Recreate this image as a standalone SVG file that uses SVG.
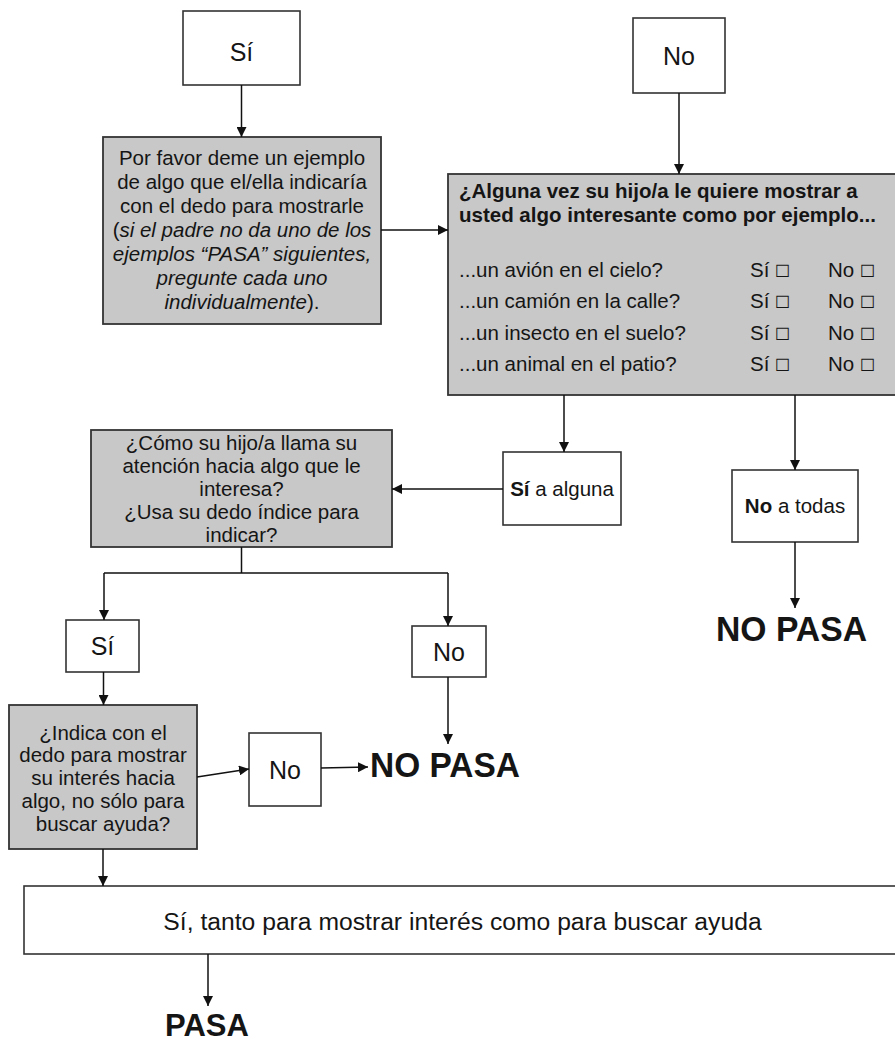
<svg xmlns="http://www.w3.org/2000/svg" width="895" height="1045" viewBox="0 0 895 1045">
<defs>
<marker id="ah" viewBox="0 0 10 10" refX="10" refY="5" markerWidth="10" markerHeight="10" markerUnits="userSpaceOnUse" orient="auto"><path d="M0,0 L10,5 L0,10 z" fill="#111"/></marker>
<style>
text{font-family:"Liberation Sans",Arial,"DejaVu Sans",sans-serif;fill:#151515;}
.box{fill:#fff;stroke:#333;stroke-width:1.6;}
.gbox{fill:#c8c8c8;stroke:#333;stroke-width:1.8;}
.t{font-size:20.5px;}
.c{text-anchor:middle;}
.big{font-size:25px;text-anchor:middle;}
.res{font-size:35px;font-weight:bold;}
.i{font-style:italic;}
.b{font-weight:bold;}
.chk{font-size:17px;}
.cn path{fill:none;stroke:#111;stroke-width:1.5;}
</style>
</defs>
<rect width="895" height="1045" fill="#fff"/>

<g id="si-top"><rect class="box" x="183" y="11" width="117" height="74"/><text class="big" x="241.5" y="61">Sí</text></g>

<g id="no-top"><rect class="box" x="633" y="18" width="92" height="75"/><text class="big" x="679" y="65">No</text></g>

<g id="ejemplo"><rect class="gbox" x="103" y="137" width="278" height="187"/>
<text class="t c" x="242" y="165">Por favor deme un ejemplo</text>
<text class="t c" x="242" y="189">de algo que el/ella indicaría</text>
<text class="t c" x="242" y="213">con el dedo para mostrarle</text>
<text class="t c" x="242" y="237">(<tspan class="i">si el padre no da uno de los</tspan></text>
<text class="t c i" x="242" y="261">ejemplos “PASA” siguientes,</text>
<text class="t c i" x="242" y="285">pregunte cada uno</text>
<text class="t c" x="242" y="309"><tspan class="i">individualmente</tspan>).</text>
</g>

<g id="pregunta"><rect class="gbox" x="448" y="174" width="460" height="221"/>
<text class="t b" x="459" y="198">¿Alguna vez su hijo/a le quiere mostrar a</text>
<text class="t b" x="459" y="222">usted algo interesante como por ejemplo...</text>
<text class="t" x="459" y="277">...un avión en el cielo?</text>
<text class="t" x="459" y="308">...un camión en la calle?</text>
<text class="t" x="459" y="340">...un insecto en el suelo?</text>
<text class="t" x="459" y="371">...un animal en el patio?</text>
<text class="t" x="750" y="277">Sí <tspan class="chk">☐</tspan></text><text class="t" x="828" y="277">No <tspan class="chk">☐</tspan></text>
<text class="t" x="750" y="308">Sí <tspan class="chk">☐</tspan></text><text class="t" x="828" y="308">No <tspan class="chk">☐</tspan></text>
<text class="t" x="750" y="340">Sí <tspan class="chk">☐</tspan></text><text class="t" x="828" y="340">No <tspan class="chk">☐</tspan></text>
<text class="t" x="750" y="371">Sí <tspan class="chk">☐</tspan></text><text class="t" x="828" y="371">No <tspan class="chk">☐</tspan></text>
</g>

<g id="si-alguna"><rect class="box" x="503" y="452" width="118" height="73"/><text class="t c" x="562" y="496"><tspan class="b">Sí</tspan> a alguna</text></g>

<g id="no-todas"><rect class="box" x="732" y="470" width="126" height="72"/><text class="t c" x="795" y="513"><tspan class="b">No</tspan> a todas</text></g>

<g id="nopasa-1"><text class="res" x="716" y="641" textLength="151" lengthAdjust="spacingAndGlyphs">NO PASA</text></g>

<g id="como-llama"><rect class="gbox" x="91" y="430" width="301" height="117"/>
<text class="t c" x="241.5" y="450">¿Cómo su hijo/a llama su</text>
<text class="t c" x="241.5" y="473">atención hacia algo que le</text>
<text class="t c" x="241.5" y="496">interesa?</text>
<text class="t c" x="241.5" y="519">¿Usa su dedo índice para</text>
<text class="t c" x="241.5" y="542">indicar?</text>
</g>

<g id="si-2"><rect class="box" x="66" y="620" width="73" height="52"/><text class="big" x="102.5" y="655">Sí</text></g>

<g id="no-2"><rect class="box" x="412" y="626" width="74" height="51"/><text class="big" x="449" y="661">No</text></g>

<g id="indica"><rect class="gbox" x="9" y="705" width="188" height="144"/>
<text class="t c" x="103" y="740">¿Indica con el</text>
<text class="t c" x="103" y="762">dedo para mostrar</text>
<text class="t c" x="103" y="785">su interés hacia</text>
<text class="t c" x="103" y="808">algo, no sólo para</text>
<text class="t c" x="103" y="831">buscar ayuda?</text>
</g>

<g id="no-3"><rect class="box" x="249" y="733" width="72" height="73"/><text class="big" x="285" y="779">No</text></g>

<g id="nopasa-2"><text class="res" x="370" y="777" textLength="150" lengthAdjust="spacingAndGlyphs">NO PASA</text></g>

<g id="ambos"><rect class="box" x="24" y="886" width="890" height="68"/><text x="462.5" y="930" style="font-size:24.7px;text-anchor:middle">Sí, tanto para mostrar interés como para buscar ayuda</text></g>

<g id="pasa"><text x="165" y="1036" style="font-size:31px;font-weight:bold">PASA</text></g>

<g class="cn" id="connectors">
<path d="M241.5,85 V137" marker-end="url(#ah)"/>
<path d="M679,93 V174" marker-end="url(#ah)"/>
<path d="M381,230 H448" marker-end="url(#ah)"/>
<path d="M564,395 V452" marker-end="url(#ah)"/>
<path d="M795,395 V470" marker-end="url(#ah)"/>
<path d="M795,542 V608" marker-end="url(#ah)"/>
<path d="M503,489 H392" marker-end="url(#ah)"/>
<path d="M241.5,547 V573 M104,573 H448"/>
<path d="M104,573 V620" marker-end="url(#ah)"/>
<path d="M448,573 V626" marker-end="url(#ah)"/>
<path d="M448,677 V744" marker-end="url(#ah)"/>
<path d="M103.5,672 V705" marker-end="url(#ah)"/>
<path d="M197,777 L249,769" marker-end="url(#ah)"/>
<path d="M321,768 L368,767" marker-end="url(#ah)"/>
<path d="M103,849 V886" marker-end="url(#ah)"/>
<path d="M208,954 V1006" marker-end="url(#ah)"/>
</g>
</svg>
